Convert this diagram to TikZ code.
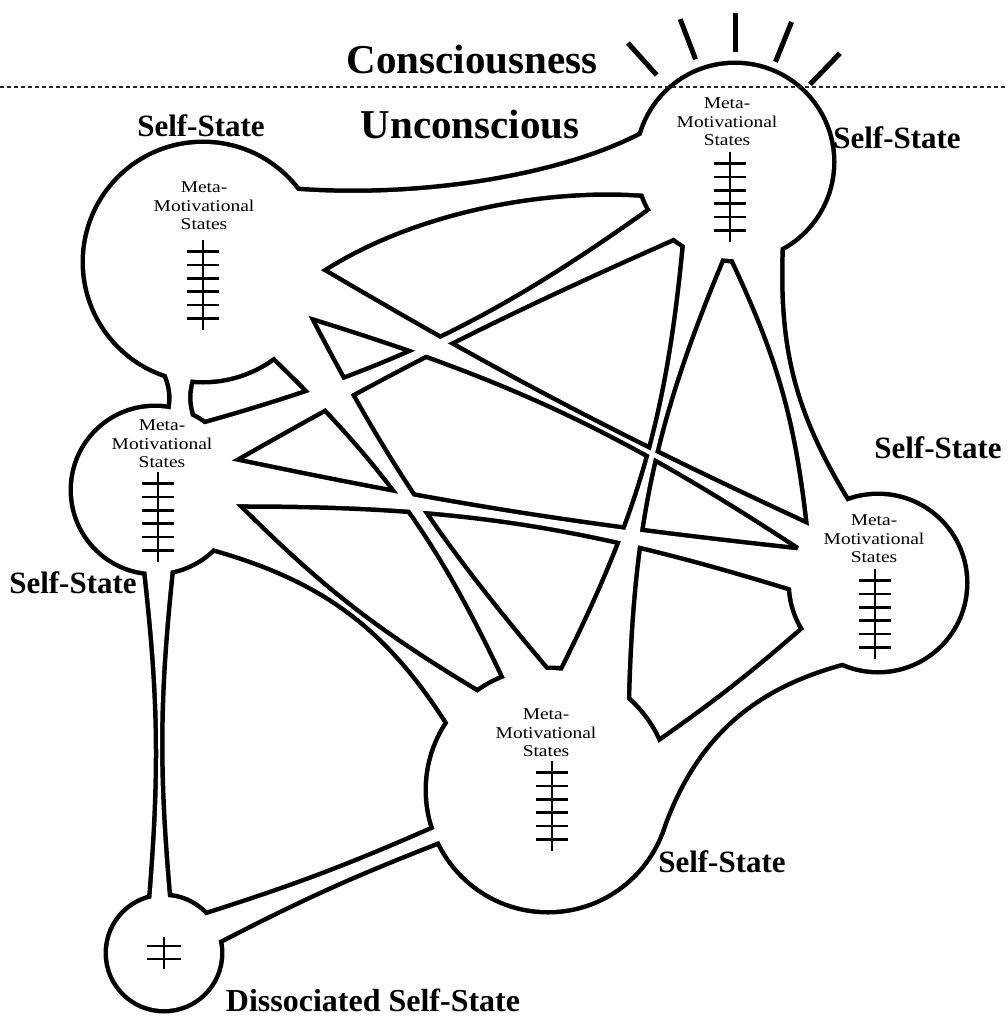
\documentclass[tikz,border=0pt]{standalone}
\usepackage{fontspec}
\setmainfont{Liberation Serif}
\newfontfamily\metafont[FakeStretch=1.18]{Liberation Serif}
\usetikzlibrary{calc,positioning}

\tikzset{
  selfstate/.style={circle, inner sep=0pt, outer sep=0pt, minimum size=#1},
  blobpass/.style={},
  metatext/.style={align=center, inner sep=0pt, font=\metafont\fontsize{16.5}{18.5}\selectfont},
  sslabel/.style={inner sep=0pt, font=\bfseries\fontsize{31}{31}\selectfont},
  realm/.style={inner sep=0pt, font=\bfseries\fontsize{41}{41}\selectfont},
  horizon/.style={line width=2pt, dash pattern=on 4pt off 3pt, black!85},
  rung/.style={line width=2.6pt},
  ray/.style={line width=5pt},
  ladder/.pic={
    \draw[rung] (0,-45) -- (0,45);
    \foreach \k in {-33.5,-20.1,-6.7,6.7,20.1,33.5}
      \draw[rung] (-16,\k) -- (16,\k);
  },
  shortladder/.pic={
    \draw[rung] (0,-16) -- (0,16);
    \foreach \k in {-7,6}
      \draw[rung] (-17,\k) -- (17,\k);
  }
}

% tube between two self-states: node, angle, angle, node, angle, angle, bend, bend
\newcommand\tube[8]{%
  \path[blobpass] (#1.center) -- (#1.#2) to[bend right=#7] (#4.#5)
    -- (#4.center) -- (#4.#6) to[bend right=#8] (#1.#3) -- cycle;
}

% all self-states and their links
\newcommand\blob{%
  \foreach \n/\r in {A/118,B/82,C/97,D/87,E/120,F/56}
    {\path[blobpass] (\n.center) circle[radius=\r pt];}
  \path[blobpass] (A.center) -- (A.37) .. controls (420,200) and (560,178) .. (C.164)
    -- (C.center) -- (C.199) .. controls (540,186) and (410,212) .. (A.-4) -- cycle;
  \tube{A}{-96}{-108}{B}{64}{79}{15}{15}
  \tube{A}{-4}{-27}{D}{140}{155}{2.8}{8.1}
  \tube{A}{-27}{-53}{E}{91}{111}{6.4}{10.4}
  \tube{B}{53}{21}{C}{210}{231}{9.9}{2.9}
  \tube{B}{21}{-10}{D}{158}{183}{2.8}{8.6}
  \tube{B}{-10}{-45}{E}{126}{146}{7}{20.9}
  \tube{B}{-79}{-96}{F}{86}{103}{5.5}{5.5}
  \tube{C}{-62}{-91}{D}{111}{142}{16.8}{9.5}
  \tube{C}{-98}{239}{E}{49}{83}{10.6}{10.6}
  \tube{D}{246}{212}{E}{-21}{23}{28}{3}
  \tube{E}{205}{199}{F}{13}{42}{3}{3}
}

\begin{document}
\begin{tikzpicture}[x=1pt, y=-1pt]
\fill[white] (0,0) rectangle (1007,1019);
\useasboundingbox (0,0) rectangle (1007,1019);

% self-states
\foreach \n/\x/\y/\r in {A/203/262/118, B/155/490/82, C/735/162/97,
                         D/878/583/87, E/548/790/120, F/164/953/56}
  \node[selfstate={2*\r pt}] (\n) at (\x,\y) {};

% outline first, then white fill
\tikzset{blobpass/.style={draw=black, line width=9pt, line join=round}}
\blob
\tikzset{blobpass/.style={fill=white}}
\blob

% inside each self-state
\foreach \x/\y in {204/206, 727/122, 162/444, 874/539, 546/733}
  \node[metatext] at (\x,\y) {Meta-\\Motivational\\States};
\foreach \x/\y in {203/285, 730/197, 158/517, 875/614, 552/806}
  \pic at (\x,\y) {ladder};
\pic at (164,953) {shortladder};

% rays of the conscious one
\foreach \a/\r/\s in {132/117/160, 111/110/153, 90/110/149, 68/108/151, 46/108/151}
  \draw[ray] ($(C.center)+(\a:\r pt)$) -- ($(C.center)+(\a:\s pt)$);

\draw[horizon] (0,87) -- (1007,87);

% labels
\node[realm] (conscious) at (472,60) {Consciousness};
\node[realm] (unconscious) at (470,125) {Unconscious};
\node[sslabel] (A-lab) at (201,126) {Self-State};
\node[sslabel] (C-lab) at (897,138) {Self-State};
\node[sslabel] (D-lab) at (938,448) {Self-State};
\node[sslabel] (B-lab) at (73,583) {Self-State};
\node[sslabel] (E-lab) at (722,862) {Self-State};
\node[sslabel, font=\bfseries\fontsize{32}{32}\selectfont] (F-lab) at (373,1000) {Dissociated Self-State};
\end{tikzpicture}
\end{document}
